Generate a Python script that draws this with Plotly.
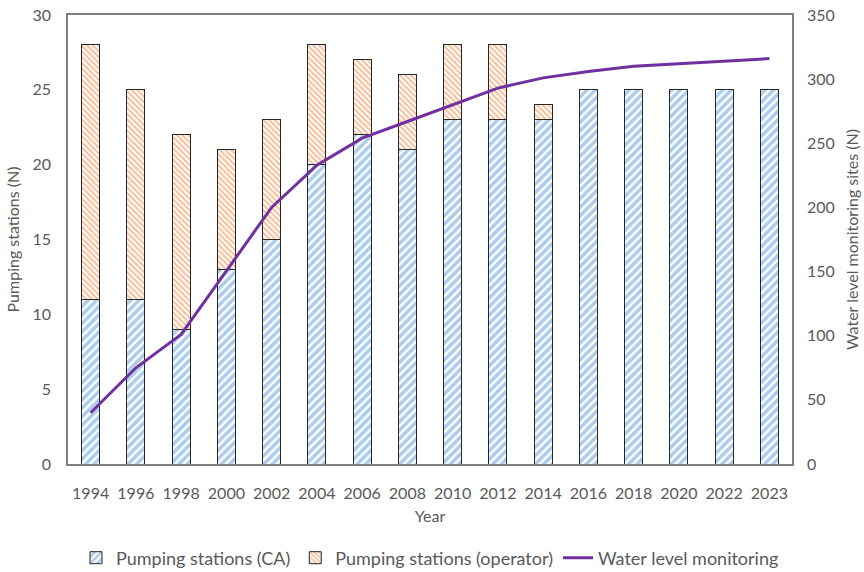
import plotly.graph_objects as go

years = ["1994", "1996", "1998", "2000", "2002", "2004", "2006", "2008",
         "2010", "2012", "2014", "2016", "2018", "2020", "2022", "2023"]
ps_ca = [11, 11, 9, 13, 15, 20, 22, 21, 23, 23, 23, 25, 25, 25, 25, 25]
ps_operator = [17, 14, 13, 8, 8, 8, 5, 5, 5, 5, 1, 0, 0, 0, 0, 0]
water_level = [40, 75, 101, 150, 200, 233, 254, 267, 280, 293, 301, 306, 310, 312, 314, 316]

FONT = "Lato"
GREY = "#595959"

fig = go.Figure()
fig.add_trace(go.Bar(
    x=years, y=ps_ca, name="Pumping stations (CA)", width=0.4,
    marker=dict(color="white", line=dict(color="#262626", width=1),
                pattern=dict(shape="/", fgcolor="#5B9BD5", bgcolor="white",
                             size=6, solidity=0.6)),
))
fig.add_trace(go.Bar(
    x=years, y=ps_operator, name="Pumping stations (operator)", width=0.4,
    marker=dict(color="white", line=dict(color="#262626", width=1),
                pattern=dict(shape="\\", fgcolor="#ED7D31", bgcolor="white",
                             size=4, solidity=0.5)),
))
fig.add_trace(go.Scatter(
    x=years, y=water_level, name="Water level monitoring", yaxis="y2",
    mode="lines", line=dict(color="#7030A0", width=3),
))

fig.update_layout(
    width=864, height=572,
    margin=dict(l=68, r=72, t=15, b=108, autoexpand=False),
    barmode="stack",
    plot_bgcolor="white", paper_bgcolor="white",
    font=dict(family=FONT, size=16, color=GREY),
    xaxis=dict(
        title=dict(text="Year", standoff=10, font=dict(size=16, color=GREY)),
        showline=True, linecolor="#7F7F7F", linewidth=1.5, mirror=True,
        ticks="", showgrid=False, tickfont=dict(size=16, color=GREY),
        ticklabelstandoff=14, automargin=False,
    ),
    yaxis=dict(
        title=dict(text="Pumping stations (N)", standoff=9, font=dict(size=16, color=GREY)),
        range=[0, 30], dtick=5, showgrid=False,
        showline=True, linecolor="#7F7F7F", linewidth=1.5, mirror=True,
        ticks="", zeroline=False, tickfont=dict(size=16, color=GREY),
        ticklabelstandoff=12, automargin=False,
    ),
    yaxis2=dict(
        title=dict(text="Water level monitoring sites (N)", standoff=12, font=dict(size=16, color=GREY)),
        overlaying="y", side="right", range=[0, 350], dtick=50,
        showgrid=False, showline=False, ticks="", zeroline=False,
        tickfont=dict(size=16, color=GREY), ticklabelstandoff=14, automargin=False,
    ),
    legend=dict(orientation="h", x=0.5, xanchor="center", xref="paper",
                y=(572 - 558) / 572, yanchor="middle", yref="container",
                font=dict(size=18, color=GREY), traceorder="normal"),
    bargap=0.6,
)

fig.write_html("out.html")
